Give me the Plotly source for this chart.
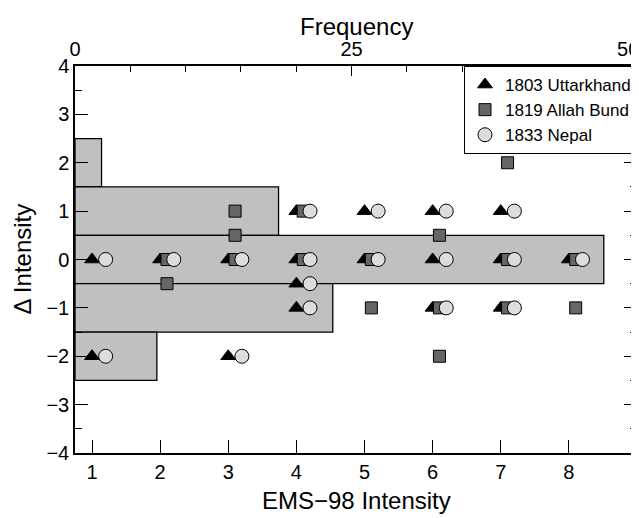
import plotly.graph_objects as go

# ---- data ----
# 1803 Uttarkhand (triangles): EMS-98 intensity, delta intensity
utt_ems = [1, 1, 2, 3, 3, 4, 4, 4, 4, 5, 5, 6, 6, 6, 7, 7, 7, 8]
utt_d   = [0, -2, 0, 0, -2, 1, 0, -0.5, -1, 1, 0, 1, 0, -1, 1, 0, -1, 0]

# 1819 Allah Bund (squares)
ab_ems = [2, 2, 3, 3, 3, 4, 4, 5, 5, 6, 6, 6, 7, 7, 7, 8, 8]
ab_d   = [0, -0.5, 1, 0.5, 0, 1, 0, 0, -1, 0.5, -1, -2, 2, 0, -1, 0, -1]

# 1833 Nepal (circles)
nep_ems = [1, 1, 2, 3, 3, 4, 4, 4, 4, 5, 5, 6, 6, 6, 7, 7, 7, 8]
nep_d   = [0, -2, 0, 0, -2, 1, 0, -0.5, -1, 1, 0, 1, 0, -1, 1, 0, -1, 0]

# histogram of delta intensity (frequency)
hist_bins = [2, 1, 0, -1, -2]
hist_freq = [2.4, 18.4, 47.8, 23.3, 7.4]

x_ticks = [1, 2, 3, 4, 5, 6, 7, 8, 9]
y_ticks = [-4, -3, -2, -1, 0, 1, 2, 3, 4]
freq_ticks = [0, 25, 50]

FONT = "Liberation Sans, Arial, Helvetica, sans-serif"
FS = 20
TFS = 24

# horizontal dodge so coincident symbols stay visible
DODGE = {"tri": 0.0, "sq": 0.1, "circ": 0.2}

fig = go.Figure()

# histogram on the (top) frequency axis -> drawn underneath
fig.add_trace(go.Bar(
    x=hist_freq, y=hist_bins, orientation="h", width=1,
    marker=dict(color="#c0c0c0", line=dict(color="black", width=1.3)),
    xaxis="x", yaxis="y", showlegend=False, hoverinfo="skip",
))

fig.add_trace(go.Scatter(
    x=[v + DODGE["tri"] for v in utt_ems], y=utt_d, mode="markers",
    name="1803 Uttarkhand",
    marker=dict(symbol="triangle-up", size=13, color="black",
                line=dict(color="black", width=1)),
    xaxis="x2", yaxis="y",
))
fig.add_trace(go.Scatter(
    x=[v + DODGE["sq"] for v in ab_ems], y=ab_d, mode="markers",
    name="1819 Allah Bund",
    marker=dict(symbol="square", size=12, color="#666666",
                line=dict(color="black", width=1)),
    xaxis="x2", yaxis="y",
))
fig.add_trace(go.Scatter(
    x=[v + DODGE["circ"] for v in nep_ems], y=nep_d, mode="markers",
    name="1833 Nepal",
    marker=dict(symbol="circle", size=14, color="#dddddd",
                line=dict(color="black", width=1)),
    xaxis="x2", yaxis="y",
))

axis_common = dict(showgrid=False, zeroline=False, showline=True,
                   linecolor="black", linewidth=1.5, ticks="inside",
                   tickcolor="black", tickwidth=1.3, automargin=False,
                   ticklabeloverflow="allow",
                   tickfont=dict(family=FONT, size=FS, color="black"))

# page body has an 8px margin -> figure sized so it fills the window
fig.update_layout(
    width=631, height=510,
    margin=dict(l=67, r=2, t=58, b=65),
    paper_bgcolor="white", plot_bgcolor="white",
    font=dict(family=FONT, size=FS, color="black"),
    barmode="overlay",
    xaxis=dict(range=[0, 50.8], side="top", anchor="y",
               tickvals=freq_ticks, ticklen=10,
               minor=dict(dtick=5, ticklen=6, ticks="inside",
                          tickcolor="black", tickwidth=1.1),
               **axis_common),
    xaxis2=dict(range=[0.75, 9], overlaying="x", side="bottom", anchor="y",
                tickvals=x_ticks, ticklen=13, **axis_common),
    yaxis=dict(range=[-4, 4], tickvals=y_ticks, ticklen=13, mirror="ticks",
               minor=dict(dtick=0.5, ticklen=7, ticks="inside",
                          tickcolor="black", tickwidth=1.1),
               **axis_common),
    legend=dict(x=1, y=1, xanchor="right", yanchor="top",
                bgcolor="white", bordercolor="black", borderwidth=1,
                font=dict(family=FONT, size=17, color="black"),
                tracegroupgap=0, itemwidth=30),
    annotations=[
        dict(text="Frequency", xref="paper", yref="paper", x=0.5, y=1,
             yshift=40, xanchor="center", yanchor="middle", showarrow=False,
             font=dict(family=FONT, size=TFS)),
        dict(text="EMS\u221298 Intensity", xref="paper", yref="paper",
             x=0.5, y=0, yshift=-47, xanchor="center", yanchor="middle",
             showarrow=False, font=dict(family=FONT, size=TFS)),
        dict(text="\u0394 Intensity", xref="paper", yref="paper",
             x=0, y=0.5, xshift=-53, xanchor="center", yanchor="middle",
             textangle=-90, showarrow=False,
             font=dict(family=FONT, size=TFS)),
    ],
)

fig.write_html("out.html")
